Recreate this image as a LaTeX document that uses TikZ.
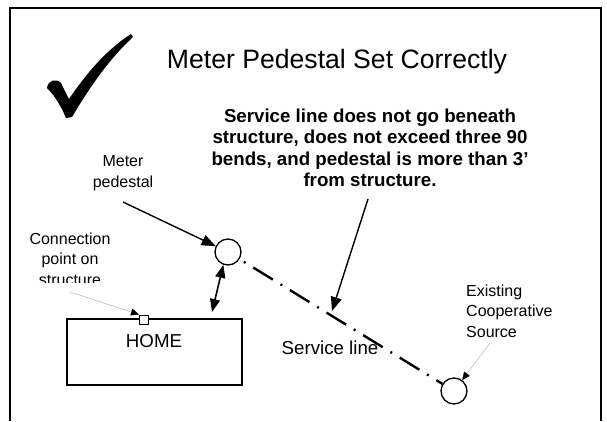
\documentclass[tikz,border=0pt]{standalone}
\usepackage{fontspec}
\setmainfont{Liberation Sans}
\usetikzlibrary{arrows.meta,calc}
\begin{document}
\begin{tikzpicture}[x=1pt,y=-1pt,
  small/.style={font=\fontsize{16}{20.5}\selectfont, align=center, inner sep=0pt},
  mid/.style={font=\fontsize{18.7}{22}\selectfont, inner sep=0pt},
  bigtitle/.style={font=\fontsize{26.6}{32}\selectfont, inner sep=0pt},
  boldnote/.style={font=\fontsize{18.7}{21.5}\selectfont\bfseries, align=center, inner sep=0pt},
  pedestal/.style={circle, draw, line width=1.3pt, minimum size=26pt, inner sep=0pt},
  bigtip/.style={-{Triangle[length=14pt,width=11pt]}},
  thinarrow/.style={draw=gray!70, line width=0.4pt, -{Triangle[length=8pt,width=7pt,color=black]}},
  darrow/.style={line width=1.6pt, {Triangle[length=13pt,width=10pt]}-{Triangle[length=13pt,width=10pt]}},
  servline/.style={line width=2.4pt, dash pattern=on 2pt off 9pt on 23pt off 9pt, dash phase=38pt}
]
\useasboundingbox (0,0) rectangle (607,421);
% frame
\draw[line width=1.5pt] (10,421) -- (10,8) -- (601,8) -- (601,421);
% checkmark
\fill (47,88) .. controls (48,80) and (56,78) .. (61,83)
  -- (69,99)
  .. controls (86,74) and (106,50) .. (131,34)
  -- (133,37)
  .. controls (108,60) and (88,90) .. (72,117)
  -- (66,118)
  .. controls (60,104) and (54,95) .. (47,88) -- cycle;
% title
\node[bigtitle] (title) at (337,62) {Meter Pedestal Set Correctly};
% bold note
\node[boldnote] (note) at (370,148) {Service line does not go beneath\\structure, does not exceed three 90\\bends, and pedestal is more than 3’\\from structure.};
% labels
\node[small] (mlab) at (123,173) {Meter\\pedestal};
\begin{scope}
  \clip (15,220) rectangle (130,282);
  \node[small] (clab) at (70,259) {Connection\\point on\\structure};
\end{scope}
\node[small, align=left, anchor=west] (elab) at (466,311) {Existing\\Cooperative\\Source};
% shapes
\node[pedestal] (mp) at (228,252) {};
\node[pedestal] (src) at (454,391) {};
\node[draw, line width=1.3pt, minimum width=175pt, minimum height=66pt, inner sep=0pt] (home) at (154.5,352) {};
\node[mid] (hometext) at (154,341) {HOME};
\node[draw, fill=white, line width=1pt, minimum size=9pt, inner sep=0pt] (cp) at (144,319.5) {};
\node[mid] (sline) at (330,348) {Service line};
% connectors
\coordinate (ma) at (123,202);
\coordinate (ca) at (70,292);
\coordinate (ea) at (490,343);
\coordinate (na) at (368,199);
\coordinate (nb) at (332,311);
\coordinate (db) at (212,312);
\draw[servline] (mp) -- (src);
\draw[line width=1.4pt, bigtip] (ma) -- (mp);
\draw[line width=1.4pt, bigtip] (na) -- (nb);
\draw[darrow] (mp.-110) -- (db);
\draw[thinarrow] (ca) -- (cp.north west);
\draw[thinarrow] (ea) -- (src);
\end{tikzpicture}
\end{document}
